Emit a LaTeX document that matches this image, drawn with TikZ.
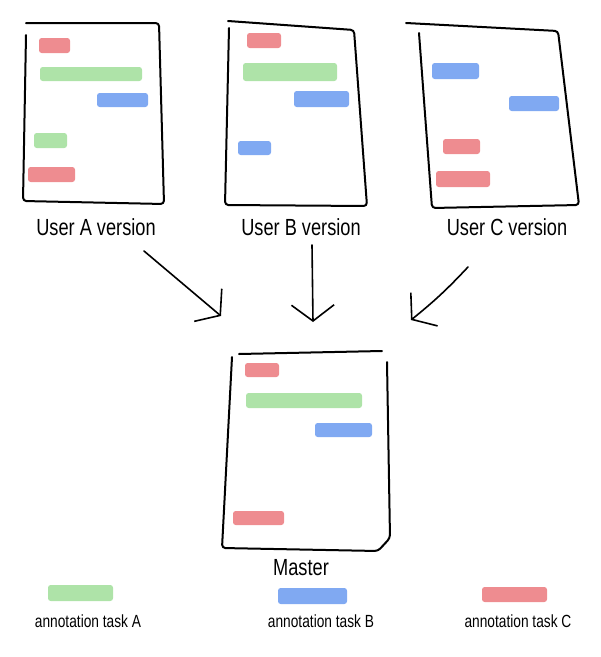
\documentclass[tikz,border=0pt]{standalone}
\usepackage{fontspec}
\setmainfont{Liberation Sans}[FakeStretch=0.78]
\usepackage{tikz}
\usetikzlibrary{arrows.meta,positioning}
\usepackage{xcolor}

\definecolor{taskA}{HTML}{AEE3A8}
\definecolor{taskB}{HTML}{80A9F2}
\definecolor{taskC}{HTML}{EE8C90}

\begin{document}
\begin{tikzpicture}[
    x=0.75pt, y=-0.75pt,
    sheet/.style={line width=1.5pt, line join=round, line cap=round, rounded corners=2.5pt},
    bar/.style={rounded corners=2pt},
    barA/.style={bar, fill=taskA},
    barB/.style={bar, fill=taskB},
    barC/.style={bar, fill=taskC},
    caption/.style={font=\fontsize{17.5}{20}\selectfont, anchor=base},
    legend/.style={font=\fontsize{13.2}{15}\selectfont, anchor=base},
    merge/.style={line width=1.2pt, line cap=round, line join=round,
        -{Straight Barb[length=12pt, width=32pt, line width=1.2pt]}}
]
\useasboundingbox (0,0) rectangle (600,657);

% User A version
\draw[sheet] (26,23) -- (159,23) -- (164,204) -- (23,201) -- (26,35);
\path[barC] (39,38) rectangle (70,53);
\path[barA] (40,67) rectangle (142,81);
\path[barB] (97,93) rectangle (148,107);
\path[barA] (34,133) rectangle (67,148);
\path[barC] (28,167) rectangle (75,182);
\node[caption] (userA) at (96,235) {User A version};

% User B version
\draw[sheet] (228,21) -- (354,30) -- (367,206) -- (225,205) -- (229,28);
\path[barC] (247,33) rectangle (281,48);
\path[barA] (243,63) rectangle (337,81);
\path[barB] (294,91) rectangle (349,107);
\path[barB] (238,141) rectangle (271,155);
\node[caption] (userB) at (301,235) {User B version};

% User C version
\draw[sheet] (406,23) -- (558,31) -- (579,205) -- (432,208) -- (419,33);
\path[barB] (432,63) rectangle (479,79);
\path[barB] (509,96) rectangle (559,111);
\path[barC] (443,139) rectangle (480,154);
\path[barC] (436,171) rectangle (490,187);
\node[caption] (userC) at (507,235) {User C version};

% Master
\draw[sheet] (239,354) -- (382,351);
\draw[sheet] (232,357) -- (222,548) -- (378,551) -- (390,538) -- (387,362);
\path[barC] (245,363) rectangle (279,377);
\path[barA] (246,393) rectangle (362,408);
\path[barB] (315,423) rectangle (372,437);
\path[barC] (233,511) rectangle (284,525);
\node[caption] (master) at (301,575) {Master};

% Arrows into the master
\coordinate (fromA) at (144,251);
\coordinate (toA) at (221,316);
\coordinate (fromB) at (312,245);
\coordinate (toB) at (313,322);
\coordinate (fromC) at (468,267);
\coordinate (toC) at (411,320);
\draw[merge] (fromA) -- (toA);
\draw[merge] (fromB) -- (toB);
\draw[merge] (fromC) to[bend left=4] (toC);

% Legend
\path[barA] (48,585) rectangle (113,601);
\node[legend] (legA) at (88,627) {annotation task A};
\path[barB] (278,588) rectangle (347,604);
\node[legend] (legB) at (321,627) {annotation task B};
\path[barC] (482,587) rectangle (547,602);
\node[legend] (legC) at (518,627) {annotation task C};

\end{tikzpicture}
\end{document}
